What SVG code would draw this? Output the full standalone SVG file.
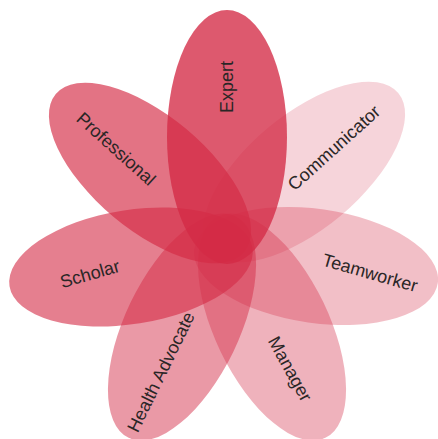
<svg xmlns="http://www.w3.org/2000/svg" width="438" height="439" viewBox="0 0 438 439">
<style>
.petal{fill:#d42a45}
.lbl{font-family:"Liberation Sans",Arial,sans-serif;font-size:18px;fill:#2a2626;text-anchor:middle;dominant-baseline:central}
</style>
<rect width="438" height="439" fill="#ffffff"/>
<g id="communicator"><ellipse class="petal" fill-opacity="0.2" cx="304" cy="172" rx="123" ry="57" transform="rotate(-40 304 172)"/><text class="lbl" transform="translate(334 148) rotate(-42)">Communicator</text></g>
<g id="teamworker"><ellipse class="petal" fill-opacity="0.3" cx="316" cy="266" rx="123" ry="57" transform="rotate(8 316 266)"/><text class="lbl" transform="translate(370 273) rotate(16)">Teamworker</text></g>
<g id="manager"><ellipse class="petal" fill-opacity="0.36" cx="272" cy="327" rx="123" ry="57" transform="rotate(64.3 272 327)"/><text class="lbl" transform="translate(290 369) rotate(61)">Manager</text></g>
<g id="health-advocate"><ellipse class="petal" fill-opacity="0.48" cx="182" cy="327" rx="123" ry="57" transform="rotate(-64.3 182 327)"/><text class="lbl" transform="translate(161 372) rotate(-64)">Health Advocate</text></g>
<g id="scholar"><ellipse class="petal" fill-opacity="0.6" cx="131" cy="267" rx="123" ry="57" transform="rotate(-9 131 267)"/><text class="lbl" transform="translate(90 274) rotate(-16)">Scholar</text></g>
<g id="professional"><ellipse class="petal" fill-opacity="0.66" cx="150" cy="173" rx="123" ry="57" transform="rotate(40 150 173)"/><text class="lbl" transform="translate(116 149) rotate(42)">Professional</text></g>
<g id="expert"><ellipse class="petal" fill-opacity="0.78" cx="227" cy="137" rx="60" ry="127"/><text class="lbl" transform="translate(227 87) rotate(-90)">Expert</text></g>
</svg>
